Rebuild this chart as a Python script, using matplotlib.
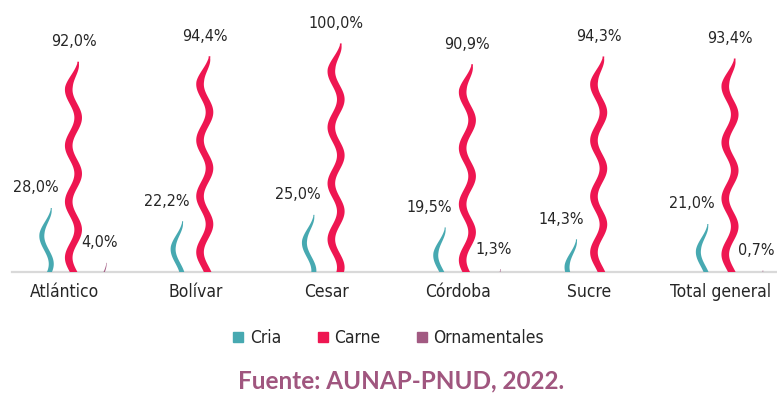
import numpy as np
import matplotlib
matplotlib.use("Agg")
import matplotlib.pyplot as plt
from matplotlib import font_manager
from matplotlib.font_manager import FontProperties
from matplotlib.lines import Line2D

# --- Data: share of producers per department (%) ---
categories = ["Atlántico", "Bolívar", "Cesar", "Córdoba", "Sucre", "Total general"]
cria = [28.0, 22.2, 25.0, 19.5, 14.3, 21.0]
carne = [92.0, 94.4, 100.0, 90.9, 94.3, 93.4]
ornamentales = [4.0, 0.0, 0.0, 1.3, 0.0, 0.7]
series_names = ["Cria", "Carne", "Ornamentales"]

# --- Style ---
col_cria = "#47A9B1"
col_carne = "#EE1651"
col_orn = "#A25A82"
col_text = "#262626"
col_source = "#A0567F"


def find_narrow_font():
    """Look for a condensed / narrow regular sans face among installed fonts."""
    best = None
    for f in font_manager.fontManager.ttflist:
        st = str(f.stretch).lower()
        tag = (f.name + " " + f.fname).lower()
        narrowish = "condensed" in st or "narrow" in tag or "condensed" in tag
        if not narrowish or f.style != "normal":
            continue
        if "extra" in st or "ultra" in st:
            continue
        w = f.weight if isinstance(f.weight, int) else {"normal": 400, "regular": 400}.get(str(f.weight), 700)
        if w != 400:
            continue
        score = 0 if "semi" not in st else 1
        if "serif" in tag and "sans" not in tag:
            score += 5
        if "mono" in tag:
            score += 5
        if best is None or score < best[0]:
            best = (score, f.fname)
    return best[1] if best else None


narrow_path = find_narrow_font()


def narrow_font(size):
    if narrow_path:
        return FontProperties(fname=narrow_path, size=size)
    return FontProperties(family="DejaVu Sans", stretch="condensed", size=size * 0.85)


installed = {f.name for f in font_manager.fontManager.ttflist}
bold_font = "Lato" if "Lato" in installed else "DejaVu Sans"


def fmt(v):
    return f"{v:.1f}%".replace(".", ",")


def wave(ax, xc, h, color, width, amp=0.036, wavelength=24.5, taper=11.0):
    """Draw a wavy bar of height h centred at xc, tip at the top."""
    if h <= 0:
        return
    y = np.linspace(0, h, 200)
    d = h - y  # distance from the tip
    cx = xc + amp * np.cos(2 * np.pi * d / wavelength)
    hw = width / 2 * np.clip(d / taper, 0.08, 1) ** 0.6
    xs = np.concatenate([cx - hw, (cx + hw)[::-1]])
    ys = np.concatenate([y, y[::-1]])
    ax.fill(xs, ys, color=color, lw=0, zorder=3)


fig = plt.figure(figsize=(7.77, 3.96), dpi=100)
ax = fig.add_axes([12 / 777, 124 / 396, 765 / 777, 272 / 396])
ax.set_xlim(-0.398, 5.428)
ax.set_ylim(0, 119)

x = np.arange(len(categories))
off = {"Cria": -0.135, "Carne": 0.07, "Ornamentales": 0.285}
widths = {"Cria": 0.038, "Carne": 0.058, "Ornamentales": 0.018}
colors = {"Cria": col_cria, "Carne": col_carne, "Ornamentales": col_orn}
values = {"Cria": cria, "Carne": carne, "Ornamentales": ornamentales}
label_dx = {"Cria": -11, "Carne": 0, "Ornamentales": -2}

for name in series_names:
    for i, v in enumerate(values[name]):
        xc = x[i] + off[name]
        wave(ax, xc, v, colors[name], widths[name])
        if v > 0:
            ax.annotate(fmt(v), (xc, v), xytext=(label_dx[name], 20),
                        textcoords="offset pixels", ha="center", va="center",
                        color=col_text, fontproperties=narrow_font(11.5))

for s in ["top", "right", "left"]:
    ax.spines[s].set_visible(False)
ax.spines["bottom"].set_color("#D9D9D9")
ax.spines["bottom"].set_linewidth(1.6)
ax.set_yticks([])
ax.set_xticks(x)
ax.set_xticklabels(categories, color=col_text, fontproperties=narrow_font(12.5))
ax.tick_params(axis="x", length=0, pad=8)

handles = [Line2D([], [], marker="s", ls="", color=colors[n], markersize=7.5)
           for n in series_names]
fig.legend(handles, series_names, loc="center", bbox_to_anchor=(0.5, 0.146),
           ncol=3, frameon=False, handlelength=0.6, handletextpad=0.35,
           columnspacing=2.1, prop=narrow_font(12.5), labelcolor=col_text)

fig.text(0.516, 0.038, "Fuente: AUNAP-PNUD, 2022.", ha="center", va="center",
         fontsize=17.5, fontweight="bold", color=col_source, family=bold_font)

fig.savefig("out.png", dpi=100)
